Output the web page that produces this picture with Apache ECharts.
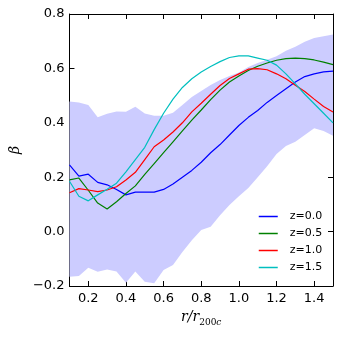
<!DOCTYPE html>
<html>
<head>
<meta charset="utf-8">
<script src="https://cdn.jsdelivr.net/npm/echarts@6/dist/echarts.min.js"></script>
<style>
html,body{margin:0;padding:0;background:#fff;}
#chart{width:340px;height:340px;}
</style>
</head>
<body>
<div id="chart"></div>
<script>
// radius bins r/r200c
const r = [0.10,0.15,0.20,0.25,0.30,0.35,0.40,0.45,0.50,0.55,0.60,0.65,0.70,0.75,0.80,0.85,0.90,0.95,1.00,1.05,1.10,1.15,1.20,1.25,1.30,1.35,1.40,1.45,1.50];
const z00 = [0.245,0.204,0.211,0.181,0.172,0.155,0.135,0.145,0.145,0.145,0.155,0.175,0.200,0.225,0.255,0.290,0.320,0.355,0.390,0.420,0.445,0.475,0.500,0.525,0.550,0.570,0.580,0.587,0.590];
const z05 = [0.190,0.197,0.152,0.105,0.083,0.110,0.140,0.168,0.210,0.250,0.290,0.330,0.370,0.410,0.447,0.485,0.520,0.550,0.572,0.592,0.608,0.620,0.630,0.636,0.638,0.636,0.631,0.623,0.614];
const z10 = [0.143,0.158,0.153,0.147,0.153,0.165,0.190,0.218,0.265,0.312,0.337,0.366,0.400,0.440,0.472,0.505,0.537,0.563,0.580,0.597,0.599,0.595,0.580,0.562,0.538,0.515,0.487,0.460,0.440];
const z15 = [0.185,0.130,0.113,0.135,0.156,0.178,0.220,0.265,0.310,0.375,0.435,0.487,0.530,0.562,0.587,0.607,0.625,0.640,0.646,0.646,0.638,0.630,0.612,0.580,0.543,0.505,0.470,0.435,0.400];
const bandHi = [0.478,0.475,0.465,0.420,0.433,0.442,0.441,0.459,0.434,0.426,0.426,0.437,0.465,0.495,0.517,0.539,0.557,0.572,0.585,0.605,0.620,0.632,0.645,0.665,0.680,0.698,0.712,0.718,0.725];
const bandLo = [-0.166,-0.163,-0.133,-0.148,-0.139,-0.147,-0.188,-0.147,-0.184,-0.190,-0.141,-0.123,-0.075,-0.032,0.006,0.018,0.060,0.098,0.130,0.160,0.200,0.240,0.285,0.315,0.330,0.355,0.380,0.370,0.352];
const seriesNames = ['z=0.0','z=0.5','z=1.0','z=1.5'];
const seriesColors = ['#0000ff','#008000','#ff0000','#00bfbf'];
const xTicks = [0.2,0.4,0.6,0.8,1.0,1.2,1.4];
const yTickLabels = {'-0.2':'\u22120.2','0.0':'0.0','0.2':'0.2','0.4':'0.4','0.6':'0.6','0.8':'0.8'};

const chart = echarts.init(document.getElementById('chart'), null, {renderer:'canvas'});
const font = 'DejaVu Sans';
const lines = [z00,z05,z10,z15].map((vals,k)=>({
  name: seriesNames[k],
  type: 'line',
  data: r.map((x,i)=>[x, vals[i]]),
  symbol: 'none',
  lineStyle: {color: seriesColors[k], width: 1.2},
  itemStyle: {color: seriesColors[k]},
  z: 3 + k,
  animation: false
}));

const tickStyle = {show:true, inside:true, length:5, lineStyle:{color:'#000', width:1}};

chart.setOption({
  animation: false,
  backgroundColor: '#fff',
  grid: {left:61, right:7, top:14, bottom:54},
  legend: {
    data: seriesNames,
    orient: 'vertical',
    left: 258, top: 211, padding: 0,
    itemWidth: 19, itemHeight: 11, itemGap: 6,
    itemStyle: {color: 'rgba(0,0,0,0)', borderWidth: 0, opacity: 0},
    lineStyle: {width: 1.5},
    textStyle: {fontFamily: font, fontSize: 11, color: '#000', padding:[0,0,0,7]}
  },
  xAxis: [{
    type: 'value', min: 0.1, max: 1.5, position: 'bottom',
    axisLine: {show:true, onZero:false, lineStyle:{color:'#000', width:1}},
    axisTick: Object.assign({customValues: xTicks}, tickStyle),
    axisLabel: {customValues: xTicks, formatter: v => v.toFixed(1), fontFamily: font, fontSize: 13, color:'#000', margin: 6},
    splitLine: {show:false},
    name: '{i|r/r}{s|200}{c|c}',
    nameLocation: 'middle', nameGap: 22,
    nameTextStyle: {rich: {
      i: {fontFamily:'DejaVu Serif', fontStyle:'italic', fontSize:14, color:'#000', verticalAlign:'top', padding:[0,0,3,0]},
      s: {fontFamily:'DejaVu Serif', fontSize:9, color:'#000', verticalAlign:'bottom'},
      c: {fontFamily:'DejaVu Serif', fontStyle:'italic', fontSize:9, color:'#000', verticalAlign:'bottom'}
    }}
  },{
    type: 'value', min: 0.1, max: 1.5, position: 'top',
    axisLine: {show:true, onZero:false, lineStyle:{color:'#000', width:1}},
    axisTick: Object.assign({customValues: xTicks}, tickStyle),
    axisLabel: {show:false},
    splitLine: {show:false}
  }],
  yAxis: [{
    type: 'value', min: -0.2, max: 0.8, interval: 0.2, position: 'left',
    axisLine: {show:true, onZero:false, lineStyle:{color:'#000', width:1}},
    axisTick: tickStyle,
    axisLabel: {formatter: v => yTickLabels[v.toFixed(1)] || v.toFixed(1), fontFamily: font, fontSize: 13, color:'#000', margin: 5},
    splitLine: {show:false},
    name: '\u03b2', nameLocation: 'middle', nameGap: 40, nameRotate: 90,
    nameTextStyle: {fontFamily:'DejaVu Serif', fontStyle:'italic', fontSize:14, color:'#000'}
  },{
    type: 'value', min: -0.2, max: 0.8, interval: 0.2, position: 'right',
    axisLine: {show:true, onZero:false, lineStyle:{color:'#000', width:1}},
    axisTick: tickStyle,
    axisLabel: {show:false},
    splitLine: {show:false}
  }],
  series: [{
    type: 'custom',
    silent: true,
    z: 1,
    data: r.map((x,i)=>[x, bandLo[i], bandHi[i]]),
    encode: {x: 0, y: [1,2]},
    renderItem: function(params, api){
      if (params.dataIndex !== 0) return null;
      const pts = [];
      for (let i = 0; i < r.length; i++) pts.push(api.coord([r[i], bandHi[i]]));
      for (let i = r.length - 1; i >= 0; i--) pts.push(api.coord([r[i], bandLo[i]]));
      return {type:'polygon', shape:{points: pts}, style:{fill:'#ccccff', stroke:null}};
    }
  }].concat(lines)
});
</script>
</body>
</html>
